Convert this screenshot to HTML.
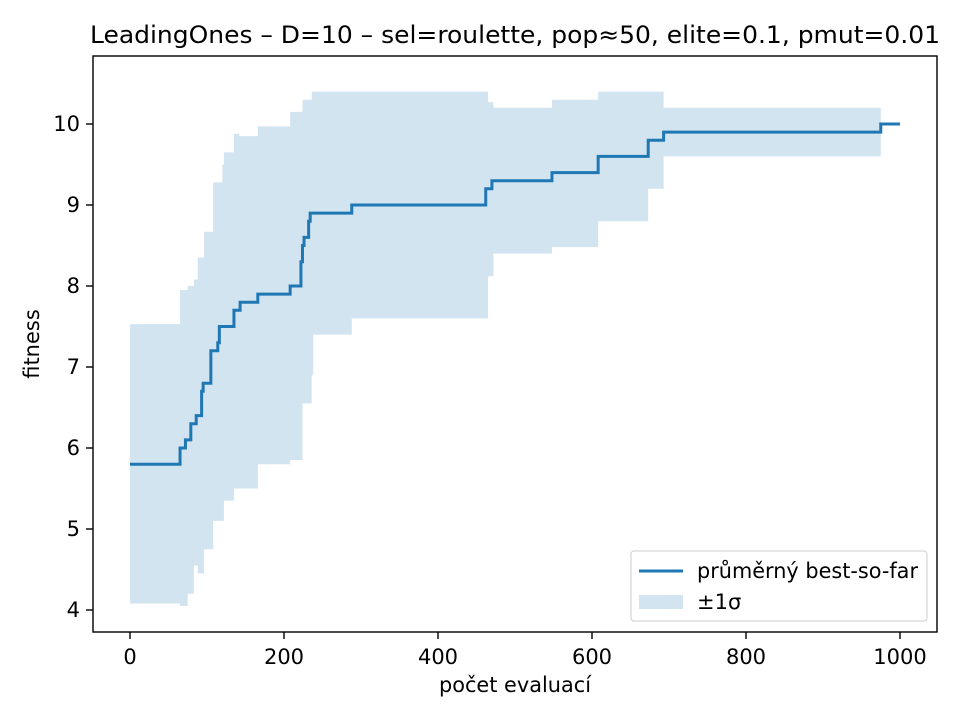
<!DOCTYPE html>
<html><head><meta charset="utf-8"><style>
html,body{margin:0;padding:0;background:#fff;}
svg{display:block;font-family:"DejaVu Sans","Liberation Sans",sans-serif;}
</style></head><body>
<svg id="chart" width="960" height="720" viewBox="0 0 960 720" xmlns="http://www.w3.org/2000/svg">
<rect x="0" y="0" width="960" height="720" fill="#fff"/>
<text x="515" y="43" font-size="24" text-anchor="middle" fill="#000" textLength="850" lengthAdjust="spacingAndGlyphs">LeadingOnes – D=10 – sel=roulette, pop≈50, elite=0.1, pmut=0.01</text>
<g id="band"></g>
<g id="line"></g>
<rect x="93" y="56" width="844" height="576" fill="none" stroke="#000" stroke-width="1.4"/>
<g id="xticks"></g>
<g id="yticks"></g>
<text x="515" y="692" font-size="21" text-anchor="middle" textLength="152" lengthAdjust="spacingAndGlyphs">počet evaluací</text>
<text x="0" y="0" font-size="21" text-anchor="middle" transform="translate(39,344) rotate(-90)">fitness</text>
<g>
<rect x="631" y="551" width="296" height="70" rx="3" fill="#fff" fill-opacity="0.8" stroke="#ccc"/>
<line x1="639" y1="571" x2="683" y2="571" stroke="#1f77b4" stroke-width="3"/>
<text x="697" y="578" font-size="21" textLength="221" lengthAdjust="spacingAndGlyphs">průměrný best-so-far</text>
<rect x="639" y="595" width="44" height="14" fill="#1f77b4" fill-opacity="0.2"/>
<text x="697" y="609" font-size="21">±1σ</text>
</g>
</svg>
<script>
const lineX = [0,65,72,79,86,93,95,105,114,116,135,143,166,208,222,224,226,232,234,288,462,470,548,608,673,693,975,1000];
const lineY = [5.8,6.0,6.1,6.3,6.4,6.7,6.8,7.2,7.3,7.5,7.7,7.8,7.9,8.0,8.3,8.5,8.6,8.8,8.9,9.0,9.2,9.3,9.4,9.6,9.8,9.9,10.0,10.0];
const bandX = [0,65,75,83,88,96,108,120,122,135,142,166,208,224,236,238,288,465,472,548,608,673,693,975];
const bandUpper = [7.53,7.95,8.0,8.08,8.35,8.67,9.28,9.5,9.65,9.88,9.85,9.97,10.15,10.3,10.4,10.4,10.4,10.27,10.2,10.3,10.4,10.4,10.2,10.2];
const bandLower = [4.08,4.05,4.2,4.55,4.45,4.75,5.1,5.1,5.35,5.5,5.5,5.8,5.85,6.55,6.9,7.4,7.6,8.12,8.4,8.48,8.8,9.2,9.6,9.6];
const xTicks = [0,200,400,600,800,1000];
const yTicks = [4,5,6,7,8,9,10];

const NS='http://www.w3.org/2000/svg';
const sx = v => 130 + v*0.77;
const sy = v => 124 + (10-v)*81;

let up='', lo='';
for(let i=0;i<bandX.length;i++){
  const xe = i<bandX.length-1 ? bandX[i+1] : bandX[i];
  up += (i===0?'M':'L')+sx(bandX[i])+','+sy(bandUpper[i])+' L'+sx(xe)+','+sy(bandUpper[i])+' ';
}
for(let i=bandX.length-1;i>=0;i--){
  const xe = i<bandX.length-1 ? bandX[i+1] : bandX[i];
  lo += 'L'+sx(xe)+','+sy(bandLower[i])+' L'+sx(bandX[i])+','+sy(bandLower[i])+' ';
}
const bp=document.createElementNS(NS,'path');
bp.setAttribute('d',up+lo+'Z');
bp.setAttribute('fill','#1f77b4');bp.setAttribute('fill-opacity','0.2');


document.getElementById('band').appendChild(bp);

let d='';
for(let i=0;i<lineX.length;i++){
  if(i===0) d+='M'+sx(lineX[0])+','+sy(lineY[0]);
  else d+=' L'+sx(lineX[i])+','+sy(lineY[i-1])+' L'+sx(lineX[i])+','+sy(lineY[i]);
}
const lp=document.createElementNS(NS,'path');
lp.setAttribute('d',d);lp.setAttribute('fill','none');
lp.setAttribute('stroke','#1f77b4');lp.setAttribute('stroke-width','3');


document.getElementById('line').appendChild(lp);

const xg=document.getElementById('xticks');
xTicks.forEach(t=>{
  const l=document.createElementNS(NS,'line');
  l.setAttribute('x1',sx(t));l.setAttribute('x2',sx(t));l.setAttribute('y1',632);l.setAttribute('y2',639);l.setAttribute('stroke','#000');l.setAttribute('stroke-width','1.4');
  
  
  xg.appendChild(l);
  const tx=document.createElementNS(NS,'text');
  tx.setAttribute('x',sx(t));tx.setAttribute('y',664);tx.setAttribute('font-size','21');tx.setAttribute('text-anchor','middle');
  tx.textContent=t;
  
  
  xg.appendChild(tx);
});
const yg=document.getElementById('yticks');
yTicks.forEach(t=>{
  const l=document.createElementNS(NS,'line');
  l.setAttribute('x1',86);l.setAttribute('x2',93);l.setAttribute('y1',sy(t));l.setAttribute('y2',sy(t));l.setAttribute('stroke','#000');l.setAttribute('stroke-width','1.4');
  
  
  yg.appendChild(l);
  const tx=document.createElementNS(NS,'text');
  tx.setAttribute('x',80);tx.setAttribute('y',sy(t)+7);tx.setAttribute('font-size','21');tx.setAttribute('text-anchor','end');
  tx.textContent=t;
  
  
  yg.appendChild(tx);
});
</script>
</body></html>
